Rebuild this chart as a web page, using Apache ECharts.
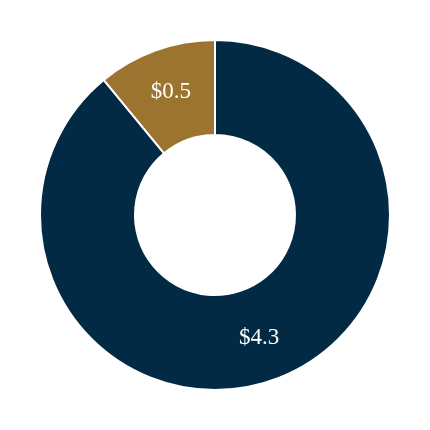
<!DOCTYPE html>
<html><head><meta charset="utf-8">
<script src="https://cdn.jsdelivr.net/npm/echarts@6/dist/echarts.min.js"></script>
<style>html,body{margin:0;padding:0;background:#fff}#c{width:430px;height:430px}</style>
</head><body><div id="c"></div>
<script>
const categories = ['A', 'B'];
const values = [4.3, 0.53];
const colors = ['#022a44', '#9c7430'];
const chart = echarts.init(document.getElementById('c'));
chart.setOption({
  animation: false,
  series: [{
    type: 'pie',
    center: [215, 215],
    radius: [80, 175],
    startAngle: 90,
    clockwise: true,
    data: categories.map((n, i) => ({ name: n, value: values[i], itemStyle: { color: colors[i] } })),
    itemStyle: { borderColor: '#fff', borderWidth: 2 },
    label: {
      position: 'inside',
      formatter: p => '$' + p.value.toFixed(1),
      color: '#fff',
      fontFamily: 'Liberation Serif',
      fontSize: 23
    },
    labelLine: { show: false },
    emphasis: { disabled: true }
  }]
});
</script></body></html>
